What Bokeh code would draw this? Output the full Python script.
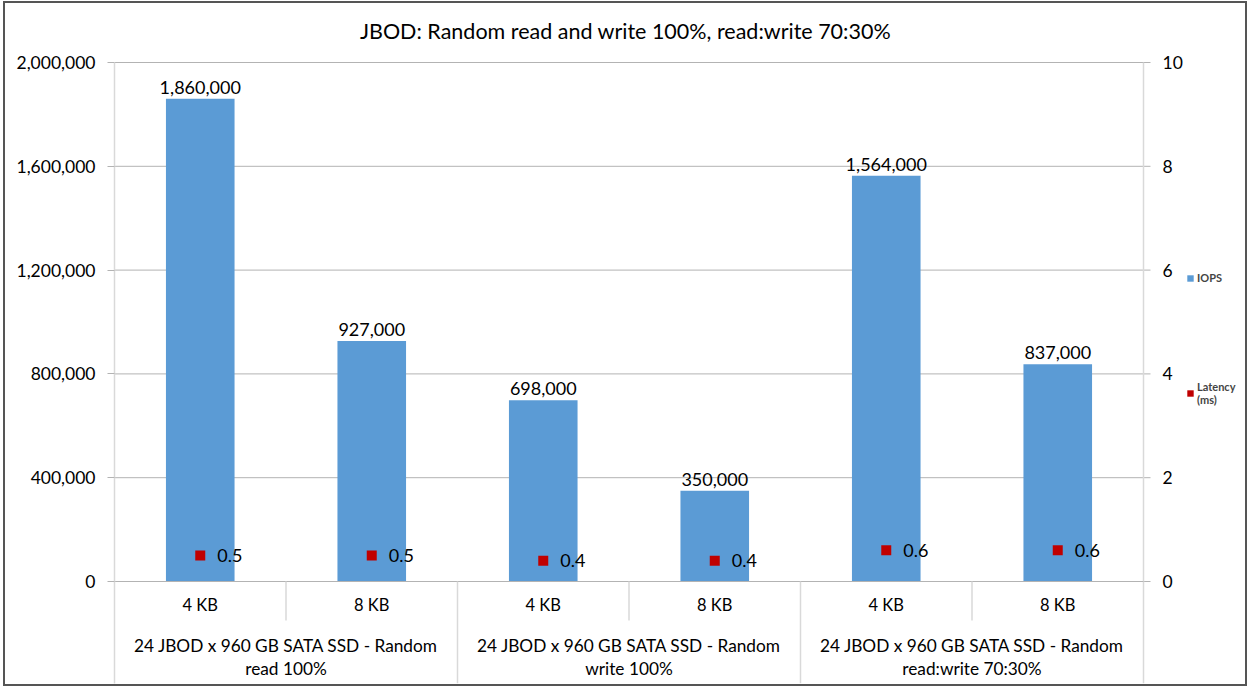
from bokeh.plotting import figure
from bokeh.models import (Range1d, FixedTicker, NumeralTickFormatter,
                          Legend, LegendItem, ColumnDataSource)
from bokeh.core.properties import value
from bokeh.embed import file_html
from bokeh.resources import INLINE

# ---- data ----
title = "JBOD: Random read and write 100%, read:write 70:30%"
sizes = ["4 KB", "8 KB", "4 KB", "8 KB", "4 KB", "8 KB"]
groups = ["24 JBOD x 960 GB SATA SSD - Random\nread 100%",
          "24 JBOD x 960 GB SATA SSD - Random\nwrite 100%",
          "24 JBOD x 960 GB SATA SSD - Random\nread:write 70:30%"]
iops = [1860000, 927000, 698000, 350000, 1564000, 837000]
latency_ms = [0.5, 0.5, 0.4, 0.4, 0.6, 0.6]
iops_ticks = [0, 400000, 800000, 1200000, 1600000, 2000000]
lat_ticks = [0, 2, 4, 6, 8, 10]

FONT = "Lato"
BAR = "#5B9BD5"
RED = "#C00000"
GRID = "#b3b3b3"
VLINE = "#d9d9d9"

W, H = 1244, 685
left_b, right_b, top_b, bot_b = 109, 0, 0, 5
frame_w = W - left_b - right_b
frame_h = H - top_b - bot_b
above_px = 59            # pixels above the top tick (title area)
axis_px = 519            # pixels between 0 and the top tick
below_px = frame_h - axis_px - above_px
n = len(sizes)
cat_px = 1029 / n        # pixel width of one category
plot_px = cat_px * n     # x pixel of the right value axis
tick_len = 7

xs = [i + 0.5 for i in range(n)]
iops_max = iops_ticks[-1]
lat_max = lat_ticks[-1]


def span(top):
    return Range1d(-top * below_px / axis_px, top * (axis_px + above_px) / axis_px)


p = figure(width=W, height=H, output_backend="svg", toolbar_location=None,
           x_range=Range1d(0, frame_w / cat_px), y_range=span(iops_max),
           x_axis_location=None, y_axis_location="left",
           min_border_left=left_b, min_border_right=right_b,
           min_border_top=top_b, min_border_bottom=bot_b)
p.styles = {"border": "2px solid #555555", "margin-left": "3px", "margin-top": "1px"}
p.extra_y_ranges = {"lat": span(lat_max),
                    "px": Range1d(-below_px, axis_px + above_px)}
p.extra_x_ranges = {"xpx": Range1d(0, frame_w)}
p.outline_line_color = None
p.background_fill_color = "white"
p.border_fill_color = "white"

# title
p.text(x=[511], y=[axis_px + 32], text=[title], x_range_name="xpx", y_range_name="px",
       text_align="center", text_baseline="middle", text_font=value(FONT),
       text_font_size="21.5px", text_color="black")

# left axis
ya = p.yaxis[0]
ya.ticker = FixedTicker(ticks=iops_ticks)
ya.formatter = NumeralTickFormatter(format="0,0")
ya.bounds = (p.y_range.start, iops_max)
ya.major_tick_out = tick_len
ya.major_tick_in = 0
ya.minor_tick_line_color = None
ya.axis_line_color = VLINE
ya.axis_line_width = 1.5
ya.major_tick_line_color = GRID
ya.major_label_text_font = FONT
ya.major_label_text_font_size = "17.5px"
ya.major_label_text_color = "black"
ya.major_label_standoff = 12

p.xgrid.visible = False
p.ygrid.visible = False

# horizontal gridlines between the two value axes (with the right outer tick)
p.segment(x0=[0] * len(iops_ticks), x1=[plot_px + tick_len] * len(iops_ticks),
          y0=iops_ticks, y1=iops_ticks, x_range_name="xpx",
          line_color=GRID, line_width=1)

# right value axis (latency)
p.segment(x0=[plot_px], x1=[plot_px], y0=[-below_px], y1=[axis_px],
          x_range_name="xpx", y_range_name="px", line_color=VLINE, line_width=1.5)
p.text(x=[plot_px + 19] * len(lat_ticks), y=lat_ticks, text=[str(t) for t in lat_ticks],
       x_range_name="xpx", y_range_name="lat", text_align="left",
       text_baseline="middle", text_font=value(FONT), text_font_size="17.5px",
       text_color="black")

# bars
src = ColumnDataSource(dict(x=xs, iops=iops, lat=latency_ms,
                            iops_lbl=[f"{v:,}" for v in iops],
                            lat_lbl=[f"{v}" for v in latency_ms],
                            size=sizes))
bars = p.vbar(x="x", top="iops", width=0.4, source=src, fill_color=BAR, line_color=None)
p.text(x="x", y="iops", text="iops_lbl", source=src, text_align="center",
       text_baseline="bottom", y_offset=-5, text_font=value(FONT),
       text_font_size="18px", text_color="black")

# latency markers (square)
lat_r = p.rect(x="x", y="lat", width=10, height=10, width_units="screen",
               height_units="screen", source=src, fill_color=RED, line_color=None,
               y_range_name="lat")
p.text(x="x", y="lat", text="lat_lbl", source=src, y_range_name="lat",
       text_align="left", text_baseline="middle", x_offset=17,
       text_font=value(FONT), text_font_size="18px", text_color="black")

# category axis (two levels)
p.segment(x0=[0], x1=[n], y0=[0], y1=[0], line_color=GRID, line_width=1)
p.text(x="x", y=-23, text="size", source=src, y_range_name="px",
       text_align="center", text_baseline="middle",
       text_font=value(FONT), text_font_size="16.5px", text_color="black")
gx = [2 * g + 1 for g in range(len(groups))]
p.text(x=gx, y=[-53] * len(groups), text=groups, y_range_name="px",
       text_align="center", text_baseline="top", text_line_height=1.13,
       text_font=value(FONT), text_font_size="17.25px", text_color="black")
sub_sep = [2 * g + 1 for g in range(len(groups))]
grp_sep = [2 * g for g in range(1, len(groups))]
p.segment(x0=sub_sep, x1=sub_sep, y0=[0] * len(sub_sep), y1=[-39] * len(sub_sep),
          y_range_name="px", line_color=VLINE, line_width=1.5)
p.segment(x0=grp_sep, x1=grp_sep, y0=[0] * len(grp_sep), y1=[-below_px] * len(grp_sep),
          y_range_name="px", line_color=VLINE, line_width=1.5)

legend = Legend(items=[LegendItem(label="IOPS", renderers=[bars]),
                       LegendItem(label="Latency\n(ms)", renderers=[lat_r])],
                location=(1072, 277), orientation="vertical",
                label_text_font=FONT, label_text_font_size="11px",
                label_text_font_style="bold", label_text_line_height=1.55,
                glyph_width=8, glyph_height=8, label_height=10,
                spacing=96, padding=0, margin=0, border_line_color=None,
                background_fill_alpha=0, label_standoff=3)
p.add_layout(legend, "center")

open("out.html", "w").write(file_html(p, INLINE))
